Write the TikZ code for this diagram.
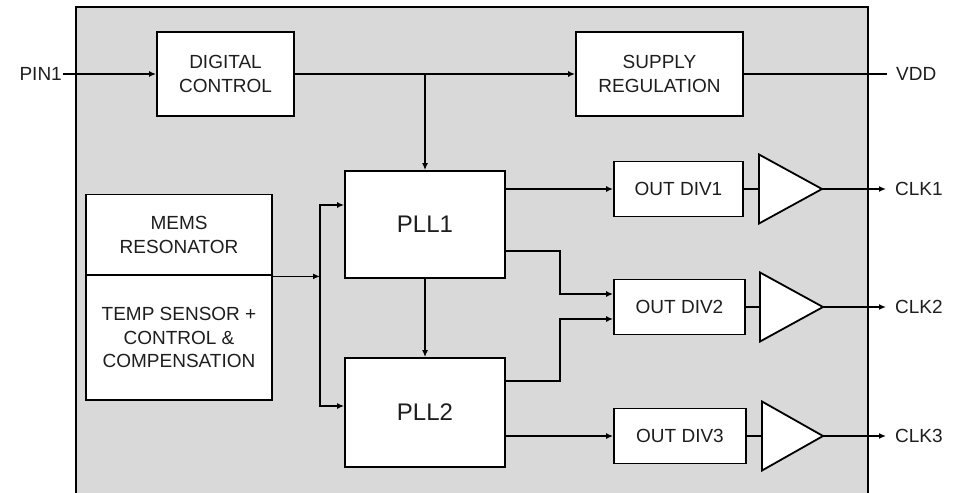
\documentclass[tikz,border=0pt]{standalone}
\usepackage{fontspec}
\setmainfont{Liberation Sans}
\usetikzlibrary{arrows.meta,calc}
\definecolor{bg}{HTML}{D9D9D9}
\definecolor{txt}{HTML}{1E1E1E}
\begin{document}
\begin{tikzpicture}[x=1pt,y=-1pt,
  blk/.style={draw, line width=1.8pt, fill=white, inner sep=0pt, align=center, font=\fontsize{19}{23.5}\selectfont, text=txt},
  pllbox/.style={blk, font=\fontsize{24}{28}\selectfont},
  conn/.style={line width=1.4pt},
  arr/.style={conn, -{Latex[length=7pt,width=6pt]}},
  lbl/.style={inner sep=0pt, font=\fontsize{19}{23}\selectfont, text=txt},
  buf/.style={draw, line width=1.8pt, fill=white, line join=miter}
]
\useasboundingbox (0,0) rectangle (957,492);
\fill[white] (0,0) rectangle (957,492);
\draw[line width=2.4pt, fill=bg] (76,7) rectangle (868,515);

% blocks
\node[blk, minimum width=137pt, minimum height=84pt] (dc) at (225.5,74) {DIGITAL\\CONTROL};
\node[blk, minimum width=167pt, minimum height=84pt] (sr) at (659.5,74) {SUPPLY\\REGULATION};
\node[blk, minimum width=186pt, minimum height=81pt] (mems) at (179,235) {MEMS\\RESONATOR};
\node[blk, minimum width=186pt, minimum height=125pt] (temp) at (179,337.5) {TEMP SENSOR +\\CONTROL \&\\COMPENSATION};
\node[pllbox, minimum width=160pt, minimum height=107pt] (pll1) at (425,224.5) {PLL1};
\node[pllbox, minimum width=160pt, minimum height=109pt] (pll2) at (425,412.5) {PLL2};
\node[blk, minimum width=129pt, minimum height=55pt] (d1) at (678.5,189) {OUT DIV1};
\node[blk, minimum width=131pt, minimum height=55pt] (d2) at (679.5,307) {OUT DIV2};
\node[blk, minimum width=132pt, minimum height=55pt] (d3) at (680,436) {OUT DIV3};

% buffers
\coordinate (t1l) at (759,189); \coordinate (t1r) at (822,189);
\coordinate (t2l) at (760,307); \coordinate (t2r) at (823,307);
\coordinate (t3l) at (762,436); \coordinate (t3r) at (823,436);
\draw[buf] ($(t1l)+(0,-34.5)$) -- (t1r) -- ($(t1l)+(0,34.5)$) -- cycle;
\draw[buf] ($(t2l)+(0,-34.5)$) -- (t2r) -- ($(t2l)+(0,34.5)$) -- cycle;
\draw[buf] ($(t3l)+(0,-34.5)$) -- (t3r) -- ($(t3l)+(0,34.5)$) -- cycle;

% labels
\node[lbl, anchor=east] (pin1) at (62,74) {PIN1};
\node[lbl, anchor=west] (vdd) at (896,74) {VDD};
\node[lbl, anchor=west] (clk1) at (895,189) {CLK1};
\node[lbl, anchor=west] (clk2) at (895,307) {CLK2};
\node[lbl, anchor=west] (clk3) at (895,436) {CLK3};

% helper coordinates
\coordinate (jdc) at (pll1.north |- dc.east);
\coordinate (bus) at (320,0 |- mems.south east);
\coordinate (p1in) at (pll1.west |- 0,205);
\coordinate (p2in) at (pll2.west |- 0,406);
\coordinate (p1o2) at (pll1.east |- 0,251);
\coordinate (p2o2) at (pll2.east |- 0,381);
\coordinate (d2a) at (d2.west |- 0,294);
\coordinate (d2b) at (d2.west |- 0,319);

% connectors
\draw[arr, shorten <=1pt] (pin1.east) -- (dc.west);
\draw[arr] (dc.east) -- (sr.west);
\draw[conn, shorten >=9pt] (sr.east) -- (vdd.west);
\draw[arr] (jdc) -- (pll1.north);
\draw[arr] (mems.south east) -- (bus);
\draw[arr] (bus) |- (p1in);
\draw[arr] (bus) |- (p2in);
\draw[arr] (pll1.south) -- (pll2.north);
\draw[arr] (pll1.east |- d1.west) -- (d1.west);
\draw[arr] (p1o2) -| (560,294) -- (d2a);
\draw[arr] (p2o2) -| (560,319) -- (d2b);
\draw[arr] (pll2.east |- d3.west) -- (d3.west);
\draw[conn] (d1.east) -- (t1l);
\draw[conn] (d2.east) -- (t2l);
\draw[conn] (d3.east) -- (t3l);
\draw[arr, shorten >=9pt] (t1r) -- (clk1.west);
\draw[arr, shorten >=9pt] (t2r) -- (clk2.west);
\draw[arr, shorten >=9pt] (t3r) -- (clk3.west);
\end{tikzpicture}
\end{document}
